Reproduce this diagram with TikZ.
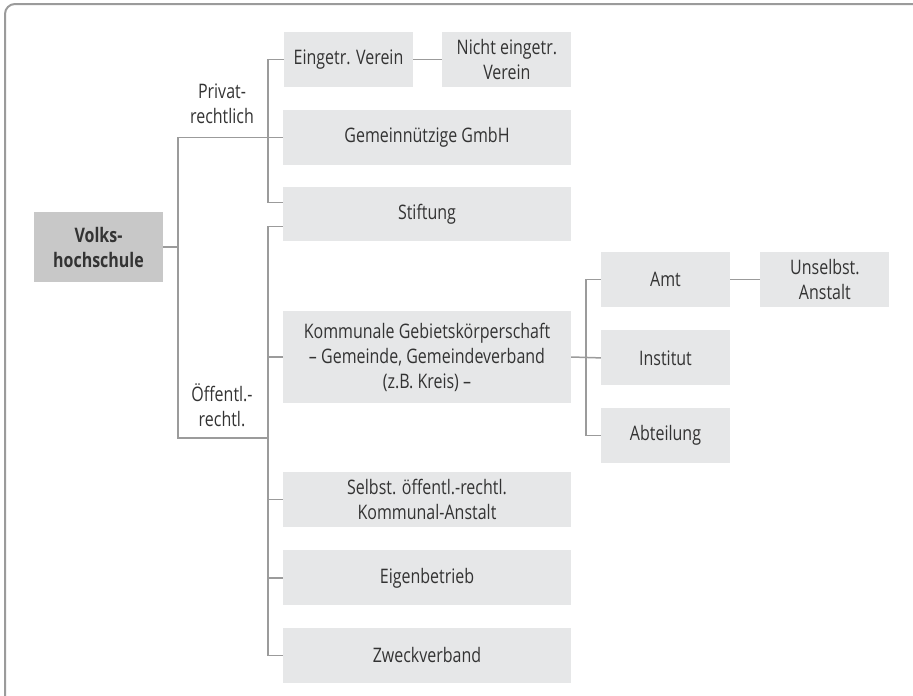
\documentclass[tikz,border=0pt]{standalone}
\usepackage{fontspec}
\setmainfont[FakeStretch=0.8]{Open Sans}
\usepackage{xcolor}
\usepackage{tikz}
\usetikzlibrary{positioning,calc}
\definecolor{boxgray}{HTML}{E6E7E8}
\definecolor{headgray}{HTML}{C8C8C8}
\definecolor{linegray}{HTML}{9B9B9B}
\definecolor{textgray}{HTML}{333333}
\tikzstyle{block} = [rectangle, fill=boxgray, text=textgray, align=center,
    minimum height=55pt, minimum width=129pt, inner sep=0pt,
    font=\fontsize{20}{25}\selectfont]
\tikzstyle{wide} = [block, minimum width=288pt]
\tikzstyle{head} = [block, fill=headgray, minimum height=70pt,
    font=\fontsize{20}{25}\selectfont\bfseries]
\tikzstyle{branch} = [text=textgray, align=center,
    font=\fontsize{20}{25}\selectfont]
\tikzstyle{link} = [draw=linegray, line width=1.5pt]

\begin{document}
\begin{tikzpicture}[x=1pt,y=-1pt]
		\useasboundingbox (0,0) rectangle (913,696);
		\begin{scope}
		\clip (0,0) rectangle (913,696);
		\draw[linegray, line width=2pt, rounded corners=10pt] (5,4) rectangle (940,720);
		\end{scope}

		\node[head] (vhs) at (98.5,247) {Volks-\\hochschule};
		\node[block] (eingetr) at (348.5,59.5) {Eingetr. Verein};
		\node[block, right=29pt of eingetr] (nicht) {Nicht eingetr.\\Verein};
		\node[wide] (gmbh) at (427,137.5) {Gemeinnützige GmbH};
		\node[wide, below=22pt of gmbh, minimum height=54pt] (stiftung) {Stiftung};
		\node[wide, minimum height=92pt] (kommunal) at (427,357) {Kommunale Gebietskörperschaft\\
			-- Gemeinde, Gemeindeverband\\(z.B. Kreis) --};
		\node[wide] (selbst) at (427,499.5) {Selbst. öffentl.-rechtl.\\Kommunal-Anstalt};
		\node[wide, below=23pt of selbst] (eigen) {Eigenbetrieb};
		\node[wide, below=22pt of eigen] (zweck) {Zweckverband};
		\node[block] (amt) at (665.5,279.5) {Amt};
		\node[block, right=30pt of amt] (unselbst) {Unselbst.\\Anstalt};
		\node[block, below=23pt of amt] (institut) {Institut};
		\node[block, below=22pt of institut] (abteilung) {Abteilung};

		\node[branch] (privat) at (222,104) {Privat-\\rechtlich};
		\node[branch] (oeff) at (222,405) {Öffentl.-\\rechtl.};

		\coordinate (split) at (178,247);
		\coordinate (oeffbus) at (268,438);

		\draw[link] (vhs) -- (split);
		\draw[link] (split) |- (gmbh.west);
		\draw[link] (split) |- (oeffbus);
		\draw[link] (eingetr.west) -- ++(-16,0) |- ([yshift=12pt]stiftung.west);
		\draw[link] ([yshift=-12pt]stiftung.west) -- ++(-15,0) |- (zweck.west);
		\draw[link] (kommunal.west) -- ++(-15,0);
		\draw[link] (selbst.west) -- ++(-15,0);
		\draw[link] (eigen.west) -- ++(-15,0);
		\draw[link] (eingetr) -- (nicht);
		\draw[link] (kommunal.east) -- (institut.west);
		\draw[link] (amt.west) -- ++(-15,0) |- (abteilung.west);
		\draw[link] (amt) -- (unselbst);
	\end{tikzpicture}
\end{document}
